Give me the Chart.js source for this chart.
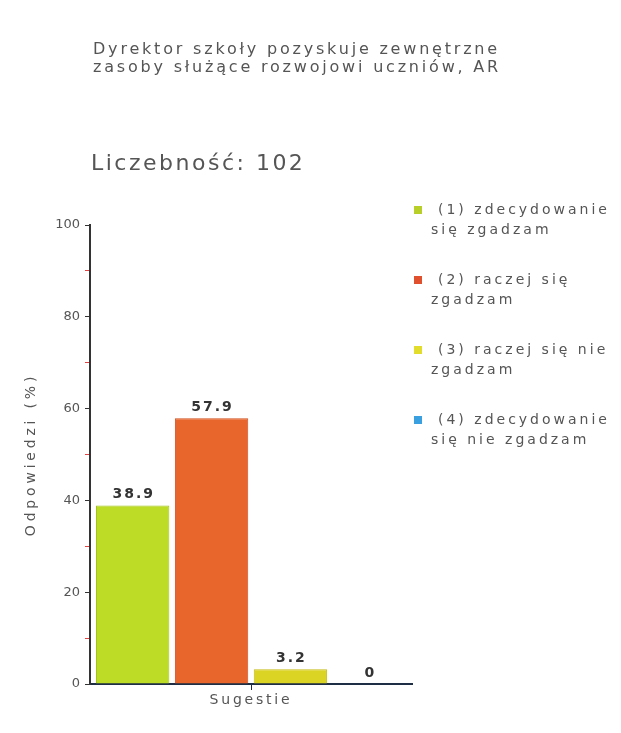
<!DOCTYPE html>
<html>
<head>
<meta charset="utf-8">
<script src="https://cdn.jsdelivr.net/npm/chart.js@4.4.0/dist/chart.umd.min.js"></script>
<style>
  html, body { margin: 0; padding: 0; background: #fff; }
  #wrap { position: relative; width: 621px; height: 733px; }
</style>
</head>
<body>
<div id="wrap"><canvas id="c" width="621" height="733"></canvas></div>
<script>
// Survey answers for a single question, percent of respondents
const categories = ['Sugestie'];
const seriesLabels = [
  ['(1) zdecydowanie', 'się zgadzam'],
  ['(2) raczej się', 'zgadzam'],
  ['(3) raczej się nie', 'zgadzam'],
  ['(4) zdecydowanie', 'się nie zgadzam']
];
const seriesValues = [38.9, 57.9, 3.2, 0];
const yTicks = [0, 20, 40, 60, 80, 100];
const titleLines = ['Dyrektor szkoły pozyskuje zewnętrzne', 'zasoby służące rozwojowi uczniów, AR'];
const countLabel = 'Liczebność: 102';
const yAxisTitle = 'Odpowiedzi (%)';

const fills   = ['#bcdc25', '#e8662c', '#dcd424', '#3a9ad8'];
const borders = ['#a3c21a', '#cf4e1c', '#c4bc16', '#1e3a5a'];
const keyColors = ['#b8cf2a', '#e0502e', '#e2dc2c', '#3aa0e0'];
const FONT = '"DejaVu Sans", Verdana, sans-serif';

const datasets = seriesValues.map((v, i) => ({
  label: seriesLabels[i].join(' '),
  data: [v],
  backgroundColor: fills[i],
  borderColor: borders[i],
  borderWidth: 1,
  categoryPercentage: 0.98,
  barPercentage: 0.93
}));

// run one of a scale's drawing steps with wider letter spacing
function spaced(scale, method, spacing) {
  if (scale['_sp_' + method]) return;
  const orig = scale[method].bind(scale);
  scale[method] = function (...args) {
    const ctx = scale.ctx;
    ctx.save();
    ctx.letterSpacing = spacing;
    orig(...args);
    ctx.restore();
  };
  scale['_sp_' + method] = true;
}

// Heading, count line, side key and value labels
const decor = {
  id: 'decor',
  afterDatasetsDraw(chart) {
    const ctx = chart.ctx;
    ctx.save();
    ctx.fillStyle = '#555';
    ctx.textAlign = 'left';
    ctx.textBaseline = 'middle';
    ctx.font = '16px ' + FONT;
    ctx.letterSpacing = '2.8px';
    titleLines.forEach((t, i) => ctx.fillText(t, 93, 50 + i * 18));
    ctx.font = '22px ' + FONT;
    ctx.letterSpacing = '2.5px';
    ctx.fillText(countLabel, 91, 164);

    // side key
    ctx.font = '14px ' + FONT;
    ctx.letterSpacing = '3px';
    seriesLabels.forEach((lines, i) => {
      const y0 = 210 + i * 70;
      ctx.fillStyle = keyColors[i];
      ctx.fillRect(414, y0 - 4, 8, 8);
      ctx.fillStyle = '#555';
      ctx.fillText(lines[0], 438, y0);
      ctx.fillText(lines[1], 431, y0 + 20);
    });

    // values above bars
    ctx.font = 'bold 14px ' + FONT;
    ctx.letterSpacing = '2px';
    ctx.fillStyle = '#333';
    ctx.textAlign = 'center';
    ctx.textBaseline = 'bottom';
    chart.data.datasets.forEach((ds, i) => {
      const bar = chart.getDatasetMeta(i).data[0];
      ctx.fillText(String(ds.data[0]), bar.x + 1, bar.y - 4);
    });
    ctx.restore();
  }
};

new Chart(document.getElementById('c'), {
  type: 'bar',
  data: { labels: categories, datasets },
  plugins: [decor],
  options: {
    responsive: false,
    animation: false,
    layout: { padding: { left: 20, top: 225, right: 209, bottom: 0 } },
    plugins: { legend: { display: false }, tooltip: { enabled: false } },
    scales: {
      x: {
        afterFit(s) { s.height = 49; },
        afterUpdate(s) { spaced(s, 'drawLabels', '2.8px'); },
        grid: { display: true, drawOnChartArea: false, offset: false, tickLength: 6, color: '#1e2e44' },
        border: { color: '#1e2e44', width: 2 },
        ticks: { color: '#555', font: { family: FONT, size: 14 }, padding: 2 }
      },
      y: {
        min: 0, max: 100,
        afterFit(s) { s.width = 70; },
        afterUpdate(s) { spaced(s, 'drawTitle', '3.8px'); },
        afterBuildTicks(s) {
          const t = [];
          for (let v = 0; v <= 100; v += 10) t.push({ value: v });
          s.ticks = t;
        },
        grid: {
          display: true, drawOnChartArea: false, tickLength: 5,
          color: c => (yTicks.includes(c.tick.value) ? '#333' : '#e84040')
        },
        border: { color: '#333', width: 2 },
        ticks: {
          color: '#555', font: { family: FONT, size: 13 }, padding: 5,
          callback: v => (yTicks.includes(v) ? String(v) : '')
        },
        title: { display: true, text: yAxisTitle, color: '#555', font: { family: FONT, size: 14 }, padding: 3 }
      }
    }
  }
});
</script>
</body>
</html>
